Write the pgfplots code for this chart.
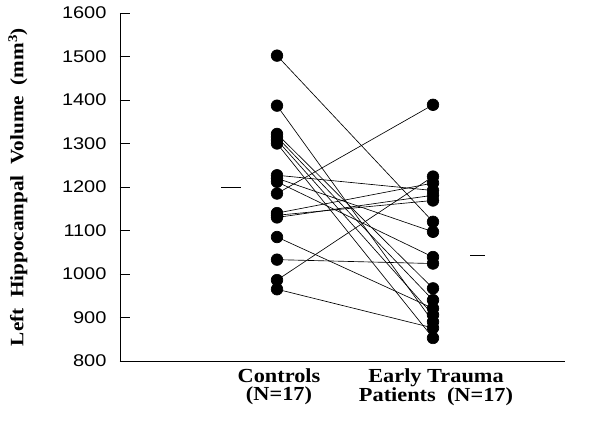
\documentclass[border=0pt]{standalone}
\usepackage{fontspec}
\setmainfont{Liberation Serif}
\setsansfont{Liberation Sans}
\newfontfamily\tickfont[FakeStretch=1.18]{Liberation Sans}
\newfontfamily\labfont[FakeStretch=1.12]{Liberation Serif}
\usepackage{pgfplots}
\pgfplotsset{compat=1.18}
\begin{document}
\begin{tikzpicture}
\begin{axis}[
  at={(0,0)}, anchor=south west,
  scale only axis, width=445bp, height=348bp,
  xmin=120, xmax=565, ymin=800, ymax=1600,
  axis x line*=bottom, axis y line*=left,
  axis line style={black, line width=0.7pt},
  clip=false,
  ytick={800,900,...,1600},
  yticklabel style={font=\tickfont\fontsize{17}{17}\selectfont, xshift=-10bp},
  /pgf/number format/assume math mode=true,
  /pgf/number format/set thousands separator={},
  tick align=inside,
  major tick length=10bp,
  tick style={black, line width=0.7pt},
  xtick={279,436},
  xticklabels={{Controls\\(N=17)},{Early Trauma\\Patients\ \ (N=17)}},
  xticklabel style={font=\labfont\bfseries\fontsize{20}{18}\selectfont, align=center, yshift=-4bp},
  x tick style={draw=none},
  ylabel={Left\ \ Hippocampal\ \ Volume\ \ (mm\textsuperscript{3})},
  ylabel style={font=\labfont\bfseries\fontsize{19}{19}\selectfont, at={(axis description cs:0,0.5)}, anchor=center, yshift=102bp},
  pt/.style={black, solid, line width=0.65pt, mark=*, mark size=5.8bp, mark options={solid, fill=black}},
]
\addplot[pt] coordinates {(277,1502) (433,1120)};
\addplot[pt] coordinates {(277,1387) (433,890)};
\addplot[pt] coordinates {(277,1322) (433,967)};
\addplot[pt] coordinates {(277,1315) (433,940)};
\addplot[pt] coordinates {(277,1308) (433,906)};
\addplot[pt] coordinates {(277,1300) (433,853)};
\addplot[pt] coordinates {(277,1227) (433,1192)};
\addplot[pt] coordinates {(277,1220) (433,1097)};
\addplot[pt] coordinates {(277,1212) (433,1039)};
\addplot[pt] coordinates {(277,1185) (433,1389)};
\addplot[pt] coordinates {(277,1140) (433,1209)};
\addplot[pt] coordinates {(277,1135) (433,1169)};
\addplot[pt] coordinates {(277,1130) (433,1181)};
\addplot[pt] coordinates {(277,1085) (433,921)};
\addplot[pt] coordinates {(277,1033) (433,1024)};
\addplot[pt] coordinates {(277,986) (433,1224)};
\addplot[pt] coordinates {(277,965) (433,876)};
% group means
\addplot[black, mark=none, line width=0.6pt] coordinates {(221,1200) (241,1200)};
\addplot[black, mark=none, line width=0.6pt] coordinates {(470,1042) (485,1042)};
\end{axis}
\path[use as bounding box] (-120bp,-65bp) rectangle (481bp,361bp);
\end{tikzpicture}
\end{document}
